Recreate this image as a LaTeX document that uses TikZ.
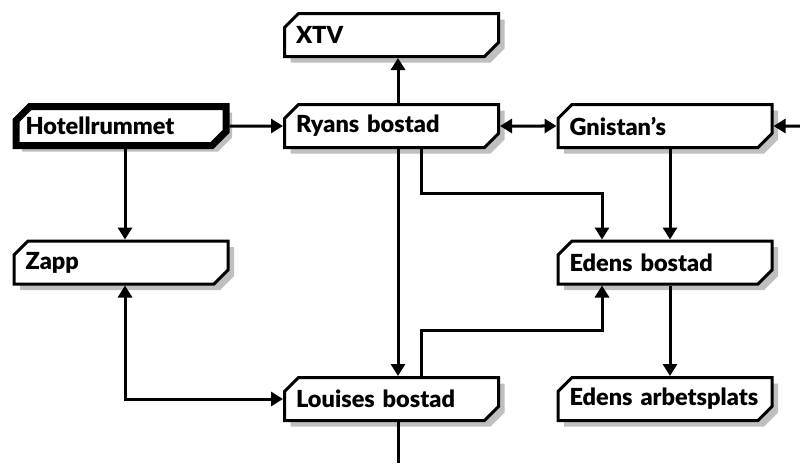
\documentclass[tikz,border=0pt]{standalone}
\usepackage{fontspec}
\setmainfont{Lato}[BoldFont={Lato Black}]
\usetikzlibrary{arrows.meta,shapes.misc,shadows}

\begin{document}
\begin{tikzpicture}[x=1pt,y=-1pt,
                    >={Triangle[length=12pt,width=14pt]},
                    place/.style={chamfered rectangle,
                        chamfered rectangle corners={north west,south east},
                        chamfered rectangle xsep=7pt, chamfered rectangle ysep=7pt,
                        draw, line width=3pt, fill=white,
                        minimum width=200pt, minimum height=43pt,
                        text width=191pt, align=left, inner xsep=4.5pt,
                        font=\fontsize{23.5}{28}\selectfont\bfseries,
                        drop shadow={shadow xshift=6pt, shadow yshift=-6pt,
                                     fill=gray!50, opacity=1}},
                    start/.style={place, line width=7pt,
                        minimum width=196pt, minimum height=39pt,
                        inner xsep=2.5pt},
                    link/.style={line width=3pt, ->}
                  ]
                  \useasboundingbox (0,0) rectangle (800,463);
                  \node[place] (xtv) at (391.5,35) {XTV};
                  \node[start] (hotell) at (121,126) {Hotellrummet};
                  \node[place] (ryan) at (391.5,126) {Ryans bostad};
                  \node[place] (gnistan) at (665,126) {Gnistan’s};
                  \node[place] (zapp) at (121,262.5) {Zapp};
                  \node[place] (eden) at (665,262.5) {Edens bostad};
                  \node[place] (louise) at (391.5,399) {Louises bostad};
                  \node[place] (jobb) at (665,399) {Edens arbetsplats};
                  \coordinate (east) at (800,126);
                  \coordinate (south) at (398,463);

                  \draw[link] (hotell) -- (ryan);
                  \draw[link] ([xshift=6.5pt]ryan.north) -- ([xshift=6.5pt]xtv.south);
                  \draw[link, <->] (ryan) -- (gnistan);
                  \draw[link] (east) -- (gnistan);
                  \draw[link] ([xshift=6.5pt]ryan.south) -- ([xshift=6.5pt]louise.north);
                  \draw[link] ([xshift=29.5pt]ryan.south) -- ++(0,44) -| ([xshift=-63pt]eden.north);
                  \draw[link] ([xshift=5pt]gnistan.south) -- ([xshift=5pt]eden.north);
                  \draw[link] ([xshift=4pt]hotell.south) -- ([xshift=4pt]zapp.north);
                  \draw[link, <->] ([xshift=4pt]zapp.south) |- (louise);
                  \draw[link] ([xshift=29.5pt]louise.north) -- ++(0,-46) -| ([xshift=-63pt]eden.south);
                  \draw[link] ([xshift=5pt]eden.south) -- ([xshift=5pt]jobb.north);
                  \draw[line width=3pt] ([xshift=6.5pt]louise.south) -- (south);
                \end{tikzpicture}
\end{document}
